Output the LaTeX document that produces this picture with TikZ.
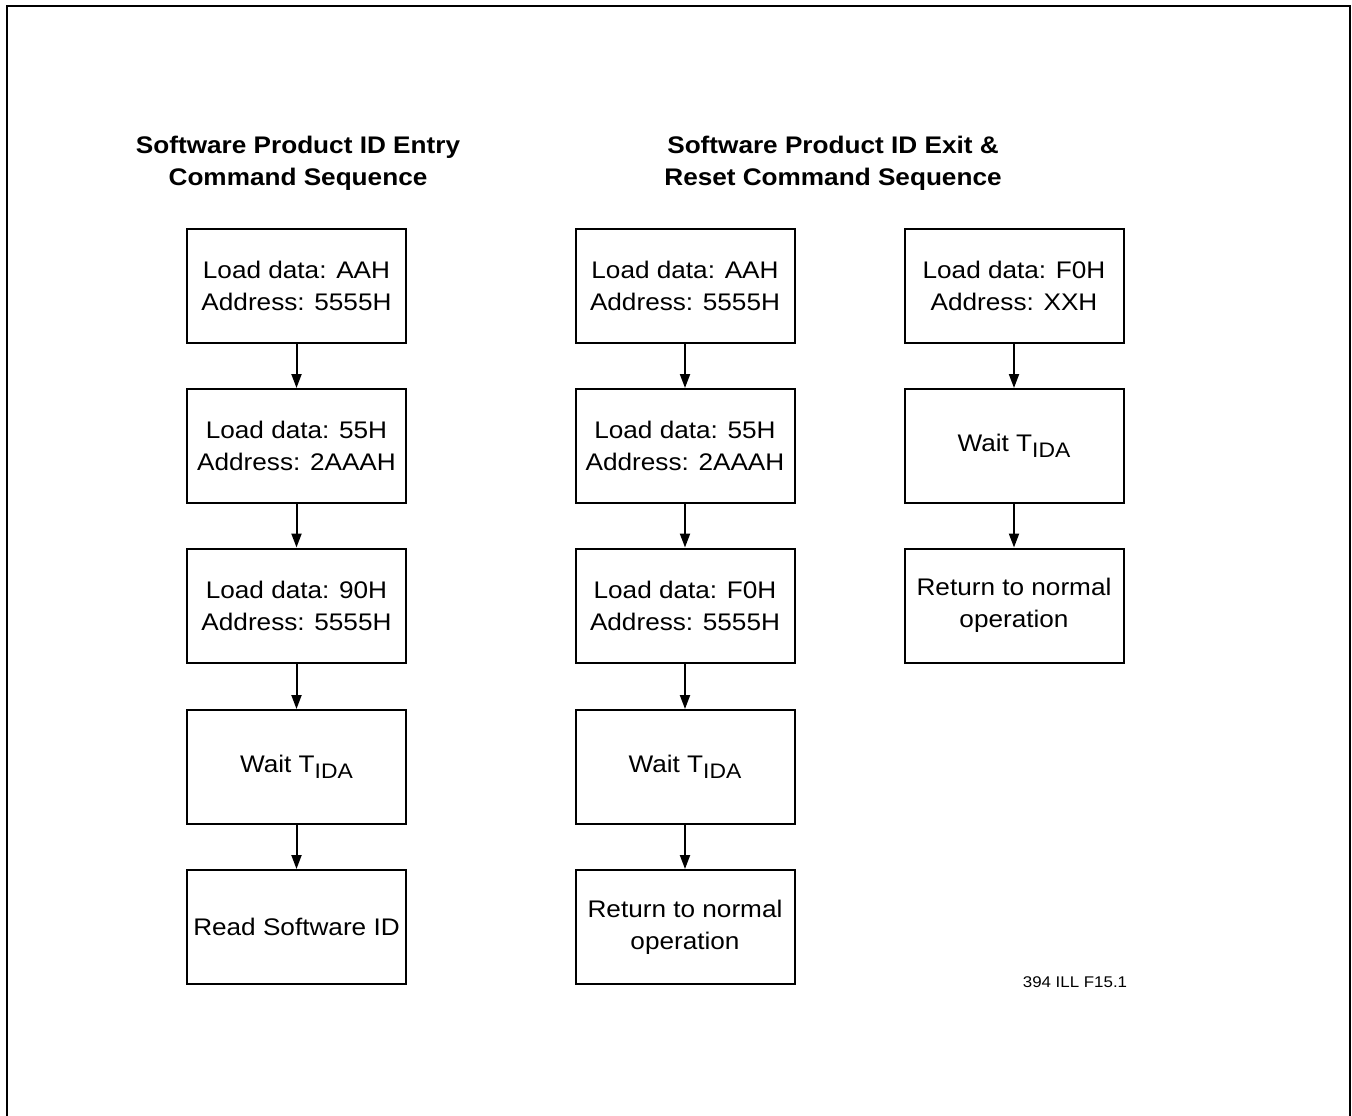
\documentclass[tikz,border=0pt]{standalone}
\usepackage{fontspec}
\setmainfont[FakeStretch=1.09]{Liberation Sans}
\usetikzlibrary{arrows.meta}
% subscripted wait time
\newcommand\tidasym{T\raisebox{-6pt}{\fontsize{21}{21}\selectfont IDA}}
\begin{document}
\begin{tikzpicture}[x=1pt,y=-1pt,
  stepbox/.style={draw, line width=2pt, minimum width=219pt, minimum height=114pt,
    inner sep=0pt, align=center, font=\fontsize{24}{32}\selectfont},
  flow/.style={line width=2pt, -{Triangle[length=14pt,width=10pt]}},
  heading/.style={align=center, font=\bfseries\fontsize{24}{32}\selectfont},
  frameline/.style={line width=2.6pt},
]
\useasboundingbox (0,0) rectangle (1352,1116);
% outer frame, open at the bottom
\draw[frameline] (7,1120) -- (7,6) -- (1350,6) -- (1350,1120);

% headings
\node[heading] (h1) at (298,163) {Software Product ID Entry\\Command Sequence};
\node[heading] (h2) at (833,163) {Software Product ID Exit \&\\Reset Command Sequence};

% entry sequence
\node[stepbox] (a1) at (296.5,286) {Load data: AAH\\Address: 5555H};
\node[stepbox] (a2) at (296.5,446) {Load data: 55H\\Address: 2AAAH};
\node[stepbox] (a3) at (296.5,605.5) {Load data: 90H\\Address: 5555H};
\node[stepbox] (a4) at (296.5,767) {Wait \tidasym};
\node[stepbox] (a5) at (296.5,927) {Read Software ID};

% exit and reset sequence (three-byte)
\node[stepbox] (b1) at (685,286) {Load data: AAH\\Address: 5555H};
\node[stepbox] (b2) at (685,446) {Load data: 55H\\Address: 2AAAH};
\node[stepbox] (b3) at (685,605.5) {Load data: F0H\\Address: 5555H};
\node[stepbox] (b4) at (685,767) {Wait \tidasym};
\node[stepbox] (b5) at (685,927) {Return to normal\\operation};

% exit and reset sequence (single-byte)
\node[stepbox] (c1) at (1014,286) {Load data: F0H\\Address: XXH};
\node[stepbox] (c2) at (1014,446) {Wait \tidasym};
\node[stepbox] (c3) at (1014,605.5) {Return to normal\\operation};

\foreach \u/\v in {a1/a2,a2/a3,a3/a4,a4/a5,b1/b2,b2/b3,b3/b4,b4/b5,c1/c2,c2/c3}
  \draw[flow] (\u.south) -- (\v.north);

\node[font=\fontsize{15.5}{18}\selectfont] (fig) at (1075,982) {394 ILL F15.1};
\end{tikzpicture}
\end{document}
